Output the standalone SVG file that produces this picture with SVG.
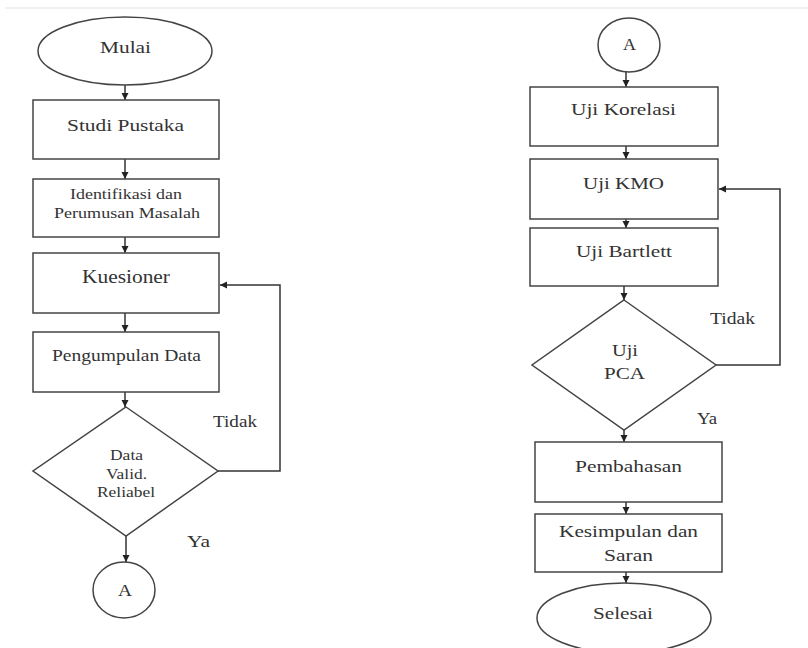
<svg xmlns="http://www.w3.org/2000/svg" width="808" height="648" viewBox="0 0 808 648">
<defs>
<marker id="ah" markerWidth="8" markerHeight="8" refX="7" refY="4" orient="auto" markerUnits="userSpaceOnUse">
<path d="M0,0.5 L7,4 L0,7.5 z" fill="#222"/>
</marker>
<style>
.s{fill:#fff;stroke:#444;stroke-width:1.5}
.c{fill:none;stroke:#333;stroke-width:1.5}
.t{font-family:"Liberation Serif","Times New Roman",serif;fill:#333;font-size:17px}
.m{font-size:14px}
</style>
</defs>
<rect width="808" height="648" fill="#fff"/>
<line x1="5" y1="8" x2="808" y2="8" stroke="#eee" stroke-width="1.5"/>
<g id="connectors">
<line class="c" x1="125" y1="85" x2="125" y2="100" marker-end="url(#ah)"/>
<line class="c" x1="125" y1="159" x2="125" y2="179" marker-end="url(#ah)"/>
<line class="c" x1="125" y1="237" x2="125" y2="253" marker-end="url(#ah)"/>
<line class="c" x1="125" y1="313" x2="125" y2="332" marker-end="url(#ah)"/>
<line class="c" x1="125" y1="392" x2="125" y2="407" marker-end="url(#ah)"/>
<line class="c" x1="126" y1="536" x2="126" y2="562" marker-end="url(#ah)"/>
<polyline class="c" points="218,471 280,471 280,285 220,285" marker-end="url(#ah)"/>
<line class="c" x1="626" y1="72" x2="626" y2="87" marker-end="url(#ah)"/>
<line class="c" x1="626" y1="146" x2="626" y2="159" marker-end="url(#ah)"/>
<line class="c" x1="626" y1="219" x2="626" y2="228" marker-end="url(#ah)"/>
<line class="c" x1="624" y1="286" x2="624" y2="300" marker-end="url(#ah)"/>
<polyline class="c" points="716,365 780,365 780,189 719,189" marker-end="url(#ah)"/>
<line class="c" x1="624" y1="430" x2="624" y2="442" marker-end="url(#ah)"/>
<line class="c" x1="626" y1="502" x2="626" y2="514" marker-end="url(#ah)"/>
<line class="c" x1="626" y1="572" x2="626" y2="583" marker-end="url(#ah)"/>
</g>
<g id="mulai"><ellipse class="s" cx="125" cy="51" rx="87" ry="34"/><text class="t" x="100" y="53" textLength="51" lengthAdjust="spacingAndGlyphs">Mulai</text></g>
<g id="studi"><rect class="s" x="33" y="100" width="186" height="59"/><text class="t" x="67" y="131" textLength="117" lengthAdjust="spacingAndGlyphs">Studi Pustaka</text></g>
<g id="identifikasi"><rect class="s" x="33" y="179" width="186" height="58"/><text class="t m" x="70" y="199" textLength="112" lengthAdjust="spacingAndGlyphs">Identifikasi dan</text><text class="t m" x="54" y="218" textLength="146" lengthAdjust="spacingAndGlyphs">Perumusan Masalah</text></g>
<g id="kuesioner"><rect class="s" x="33" y="253" width="186" height="60"/><text class="t" x="82" y="283" textLength="88" lengthAdjust="spacingAndGlyphs" style="font-size:18px">Kuesioner</text></g>
<g id="pengumpulan"><rect class="s" x="33" y="332" width="186" height="60"/><text class="t" x="52" y="361" textLength="149" lengthAdjust="spacingAndGlyphs">Pengumpulan Data</text></g>
<g id="valid"><polygon class="s" points="126,407 218,471 126,536 33,471"/><text class="t m" x="110" y="460" textLength="33" lengthAdjust="spacingAndGlyphs">Data</text><text class="t m" x="106" y="479" textLength="41" lengthAdjust="spacingAndGlyphs">Valid.</text><text class="t m" x="97" y="497" textLength="58" lengthAdjust="spacingAndGlyphs">Reliabel</text></g>
<g id="a-left"><ellipse class="s" cx="124" cy="590" rx="31" ry="28"/><text class="t" x="118" y="596" textLength="14" lengthAdjust="spacingAndGlyphs">A</text></g>
<g id="labels-left"><text class="t" x="213" y="427" textLength="44" lengthAdjust="spacingAndGlyphs" style="font-size:16px">Tidak</text><text class="t" x="187" y="547" textLength="23" lengthAdjust="spacingAndGlyphs" style="font-size:16px">Ya</text></g>
<g id="a-right"><ellipse class="s" cx="629" cy="45" rx="31" ry="27"/><text class="t" x="623" y="50" textLength="13" lengthAdjust="spacingAndGlyphs">A</text></g>
<g id="korelasi"><rect class="s" x="530" y="87" width="188" height="59"/><text class="t" x="571" y="115" textLength="105" lengthAdjust="spacingAndGlyphs">Uji Korelasi</text></g>
<g id="kmo"><rect class="s" x="530" y="159" width="188" height="60"/><text class="t" x="583" y="189" textLength="81" lengthAdjust="spacingAndGlyphs">Uji KMO</text></g>
<g id="bartlett"><rect class="s" x="530" y="228" width="188" height="58"/><text class="t" x="576" y="257" textLength="96" lengthAdjust="spacingAndGlyphs">Uji Bartlett</text></g>
<g id="pca"><polygon class="s" points="624,300 716,365 624,430 532,365"/><text class="t" x="612" y="356" textLength="26" lengthAdjust="spacingAndGlyphs">Uji</text><text class="t" x="604" y="379" textLength="41" lengthAdjust="spacingAndGlyphs">PCA</text></g>
<g id="labels-right"><text class="t" x="710" y="324" textLength="45" lengthAdjust="spacingAndGlyphs" style="font-size:16px">Tidak</text><text class="t" x="697" y="424" textLength="20" lengthAdjust="spacingAndGlyphs" style="font-size:16px">Ya</text></g>
<g id="pembahasan"><rect class="s" x="535" y="442" width="187" height="60"/><text class="t" x="575" y="472" textLength="107" lengthAdjust="spacingAndGlyphs">Pembahasan</text></g>
<g id="kesimpulan"><rect class="s" x="535" y="514" width="187" height="58"/><text class="t" x="559" y="537" textLength="139" lengthAdjust="spacingAndGlyphs">Kesimpulan dan</text><text class="t" x="604" y="561" textLength="49" lengthAdjust="spacingAndGlyphs">Saran</text></g>
<g id="selesai"><ellipse class="s" cx="624" cy="618" rx="87" ry="35"/><text class="t" x="593" y="619" textLength="60" lengthAdjust="spacingAndGlyphs">Selesai</text></g>
</svg>
